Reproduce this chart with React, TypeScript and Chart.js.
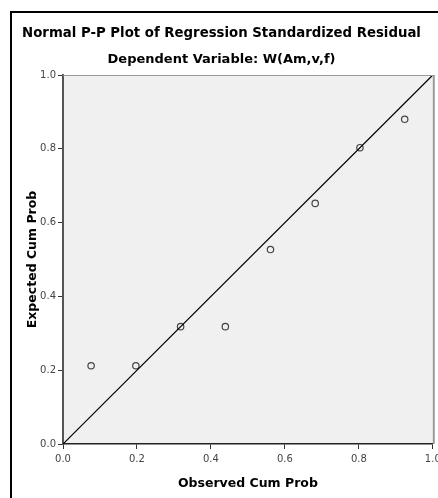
import React, { useEffect, useRef } from "react";
import { Chart, registerables } from "chart.js";

Chart.register(...registerables);

const titleText = "Normal P-P Plot of Regression Standardized Residual";
const subtitleText = "Dependent Variable: W(Am,v,f)";
const xTitle = "Observed Cum Prob";
const yTitle = "Expected Cum Prob";
const observedCumProb = [0.076, 0.197, 0.318, 0.439, 0.561, 0.682, 0.803, 0.924];
const expectedCumProb = [0.212, 0.212, 0.318, 0.318, 0.527, 0.652, 0.803, 0.88];
const diagonalX = [0, 1];
const diagonalY = [0, 1];

const FONT = "'DejaVu Sans', Verdana, sans-serif";

const plotBg = {
  id: "plotBg",
  beforeDraw(chart: any) {
    const { ctx, chartArea: a } = chart;
    ctx.save();
    ctx.fillStyle = "#f0f0f0";
    ctx.fillRect(a.left, a.top, a.right - a.left, a.bottom - a.top);
    ctx.restore();
  },
  afterDraw(chart: any) {
    const { ctx, chartArea: a } = chart;
    ctx.save();
    ctx.strokeStyle = "#9a9a9a";
    ctx.lineWidth = 1;
    ctx.beginPath();
    ctx.moveTo(a.left, a.top + 0.5);
    ctx.lineTo(a.right + 0.5, a.top + 0.5);
    ctx.stroke();
    ctx.lineWidth = 2;
    ctx.beginPath();
    ctx.moveTo(a.right + 1, a.top);
    ctx.lineTo(a.right + 1, a.bottom);
    ctx.stroke();
    // outer frame
    ctx.strokeStyle = "#000";
    ctx.lineWidth = 2;
    ctx.beginPath();
    ctx.moveTo(11, 520);
    ctx.lineTo(11, 12);
    ctx.lineTo(460, 12);
    ctx.stroke();
    ctx.restore();
  },
};

export default function App() {
  const ref = useRef<HTMLCanvasElement>(null);
  useEffect(() => {
    if (!ref.current) return;
    const chart = new Chart(ref.current, {
      type: "scatter",
      data: {
        datasets: [
          {
            type: "line",
            data: diagonalX.map((x, i) => ({ x, y: diagonalY[i] })),
            borderColor: "#000",
            borderWidth: 1.2,
            pointRadius: 0,
            fill: false,
          } as any,
          {
            data: observedCumProb.map((x, i) => ({ x, y: expectedCumProb[i] })),
            pointRadius: 3.2,
            pointBorderWidth: 1.2,
            pointBorderColor: "#444",
            pointBackgroundColor: "rgba(0,0,0,0)",
            pointStyle: "circle",
          },
        ],
      },
      options: {
        animation: false,
        responsive: false,
        devicePixelRatio: 1,
        layout: { padding: { left: 5, right: 0, top: 0, bottom: 0 } },
        plugins: {
          legend: { display: false },
          tooltip: { enabled: false },
          title: {
            display: true,
            text: titleText,
            color: "#000",
            font: { family: FONT, size: 13.3, weight: "bold", lineHeight: 1.2 },
            padding: { top: 26, bottom: 0 },
          },
          subtitle: {
            display: true,
            text: subtitleText,
            color: "#000",
            font: { family: FONT, size: 13, weight: "bold", lineHeight: 1.2 },
            padding: { top: 10, bottom: 7.44 },
          },
        },
        scales: {
          x: {
            type: "linear",
            min: 0,
            max: 1,
            ticks: {
              stepSize: 0.2,
              callback: (v: any) => Number(v).toFixed(1),
              color: "#444",
              font: { family: FONT, size: 10 },
              padding: 4,
              maxRotation: 0,
            },
            grid: { drawOnChartArea: false, drawTicks: true, tickLength: 5, color: "#333" },
            border: { color: "#222", width: 1.5 },
            title: {
              display: true,
              text: xTitle,
              color: "#000",
              font: { family: FONT, size: 12.5, weight: "bold", lineHeight: 1.2 },
              padding: { top: 0, bottom: 7 },
            },
            afterFit: (s: any) => {
              s.height = 54;
              s.paddingLeft = 0;
              s.paddingRight = 5;
            },
          },
          y: {
            type: "linear",
            min: 0,
            max: 1,
            ticks: {
              stepSize: 0.2,
              callback: (v: any) => Number(v).toFixed(1),
              color: "#444",
              font: { family: FONT, size: 10 },
              padding: 2,
            },
            grid: { drawOnChartArea: false, drawTicks: true, tickLength: 5, color: "#333" },
            border: { color: "#555", width: 2 },
            title: {
              display: true,
              text: yTitle,
              color: "#000",
              font: { family: FONT, size: 12.5, weight: "bold", lineHeight: 1.2 },
              padding: { top: 20, bottom: 0 },
            },
            afterFit: (s: any) => {
              s.width = 58;
              s.paddingTop = 0;
              s.paddingBottom = 0;
            },
          },
        },
      } as any,
      plugins: [plotBg],
    });
    return () => chart.destroy();
  }, []);
  return (
    <div style={{ position: "absolute", left: 0, top: 0, width: 438, height: 498, overflow: "hidden", background: "#fff" }}>
      <canvas ref={ref} width={438} height={498} style={{ width: 438, height: 498, display: "block" }} />
    </div>
  );
}
